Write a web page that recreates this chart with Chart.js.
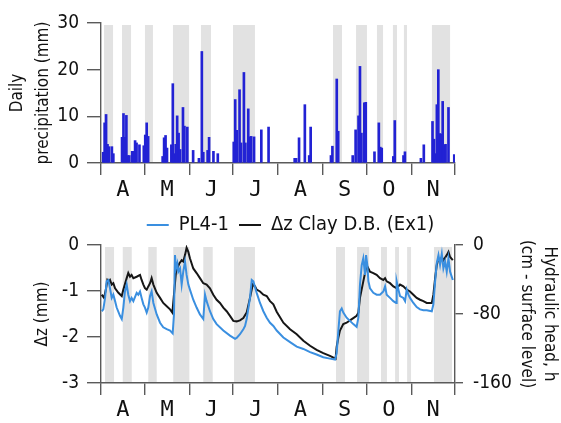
<!DOCTYPE html>
<html>
<head>
<meta charset="utf-8">
<script src="https://cdn.jsdelivr.net/npm/chart.js@4.4.1/dist/chart.umd.min.js"></script>
<style>
  body { margin: 0; background: #fff; }
  #wrap { position: relative; width: 561px; height: 423px; }
  canvas { position: absolute; left: 0; }
</style>
</head>
<body>
<div id="wrap">
  <canvas id="chartLluvia" width="561" height="205" style="top:0"></canvas>
  <canvas id="chartDz" width="561" height="218" style="top:205px"></canvas>
</div>
<script>
// eje x: dias desde el 1 de abril
const monthEdges = [0, 30, 61, 91, 122, 153, 183, 214, 244];
const monthNames = ['A', 'M', 'J', 'J', 'A', 'S', 'O', 'N'];

// precipitacion diaria (mm)
const rainDays = [1, 2, 3, 4, 5, 7, 8,
    14, 15, 16, 17, 18, 19, 21, 22, 23, 24, 26,
    29, 30, 31, 32,
    42, 43, 44, 45, 48, 49, 50, 51, 52, 53, 54, 56, 57, 59,
    63, 67, 69, 70, 73, 74, 77, 80,
    91, 92, 93, 95, 96, 98, 99, 101, 102, 103, 105, 110, 115,
    133, 134, 136, 140, 143, 144,
    158, 159, 162, 163,
    173, 175, 177, 178, 179, 181, 182,
    188, 191, 192, 193,
    201, 202, 208, 209,
    220, 222,
    228, 229, 230, 231, 232, 233, 234, 235, 236, 237, 239, 243];
const rainMm = [2.3, 8.6, 10.4, 4, 3.5, 3.5, 2,
    5.5, 10.6, 5.5, 10.2, 1.6, 1.6, 2.5, 2.5, 4.8, 4.3, 3.9,
    3.7, 6, 8.6, 5.7,
    1.4, 5.4, 5.9, 3.2, 3.9, 17, 2, 4, 10.1, 6.4, 2.9, 11.9, 7.9, 7.7,
    2.7, 1, 23.9, 2.3, 2.7, 5.5, 2.5, 2,
    4.5, 13.6, 7, 15.7, 4.3, 19.4, 4.3, 11.6, 5.6, 5.7, 5.6, 7.1, 7.7,
    1, 1, 5.4, 12.5, 1.6, 7.7,
    1.6, 3.6, 18, 6.8,
    1.6, 7.1, 10.1, 20.7, 6.4, 12.9, 13,
    2.4, 8.6, 3.4, 3.2,
    1.4, 9.1, 1.6, 2.4,
    1, 3.9,
    8.9, 5.1, 2, 12.5, 20, 6.3, 6.2, 13.2, 3.9, 4, 11.9, 1.8];

// periodos de lluvia (sombreado gris)
const bandStartTop = [2.1, 14.5, 30.3, 49.6, 68.9, 91, 159.9, 175.8, 190.2, 201.2, 208.8, 228.1];
const bandEndTop = [8.3, 20.7, 35.8, 60.7, 75.8, 106.1, 166.1, 183.3, 194.4, 204, 210.9, 240.6];
const bandStartBot = [2.8, 15, 32.6, 49.8, 70.5, 91.7, 162, 176.5, 193, 202.7, 211, 229.5];
const bandEndBot = [9, 21.2, 38.4, 60.9, 77, 106.1, 168.2, 184.8, 197.1, 205.4, 213.7, 241.9];

// PL4-1 (mm)
const blueDays = [0.5, 1.6, 2.8, 3.9, 5.1, 6.2, 7.4, 8.5, 9.7, 10.8, 13.1, 14.3, 15.4, 16.5, 17.7, 18.8,
    20, 21.1, 22.3, 24.6, 25.7, 26.9, 28, 29.2, 30.3, 31.5, 32.6, 33.8, 34.9, 36.1, 38.4, 40.7,
    42.9, 45.3, 47.6, 49.4, 50.3, 51, 51.7, 52.6, 53.3, 54.5, 55.6, 56.7, 57.9, 59, 60.2, 61.3,
    63.6, 65.9, 68.2, 70.5, 71.7, 72.8, 75.1, 77.4, 79.7, 84.3, 88.9, 92.4, 93.5, 95.8, 98.1, 99.3,
    100.4, 102.7, 103.9, 105, 107.3, 109.6, 111.9, 114.2, 116.5, 118.8, 121.1, 125.7, 130.3, 134.9,
    139.5, 144.1, 148.6, 153.2, 157.8, 161.3, 162.4, 163.6, 164.7, 165.9, 167, 169.3, 171.6, 173.9,
    176.2, 177.4, 178.5, 179.7, 180.8, 182, 182.7, 183.6, 184.3, 185.4, 187.7, 190, 192.3, 194.6,
    195.8, 196.9, 199.2, 201.5, 203.4, 203.8, 205, 206.1, 208.4, 209.6, 210.7, 211.9, 213, 215.3,
    217.6, 219.9, 222.2, 224.5, 228, 229.1, 230.3, 231.4, 232.6, 233.7, 234.9, 236, 237.2, 238.3,
    239.5, 240.6, 242.5];
const blueDz = [-1.44, -1.40, -1.15, -0.79, -0.76, -0.94, -1.15, -1.08, -1.22, -1.36, -1.54, -1.61, -1.36, -1.01, -0.86, -1.08,
    -1.22, -1.15, -1.22, -1.04, -1.08, -1.01, -1.15, -1.29, -1.36, -1.47, -1.36, -1.11, -1.01, -1.26, -1.51, -1.69,
    -1.79, -1.83, -1.86, -1.92, -1.51, -0.22, -0.51, -0.40, -0.58, -0.51, -0.86, -0.58, -0.36, -0.65, -0.86, -0.97,
    -1.19, -1.36, -1.51, -1.61, -1.08, -1.22, -1.44, -1.61, -1.72, -1.86, -1.97, -2.04, -2.02, -1.94, -1.83, -1.76,
    -1.61, -1.15, -0.76, -0.79, -1.04, -1.26, -1.44, -1.58, -1.69, -1.76, -1.86, -2.01, -2.11, -2.21,
    -2.26, -2.33, -2.38, -2.44, -2.47, -2.49, -2.36, -1.86, -1.44, -1.38, -1.47, -1.58, -1.65, -1.72,
    -1.78, -1.58, -0.86, -0.44, -0.29, -0.65, -0.22, -0.44, -0.79, -0.94, -1.04, -1.08, -1.08, -1.01,
    -0.90, -1.08, -1.15, -1.22, -1.26, -0.79, -0.97, -1.11, -1.15, -1.22, -0.97, -1.08, -1.15, -1.26,
    -1.35, -1.40, -1.42, -1.42, -1.44, -1.29, -0.79, -0.40, -0.22, -0.43, -0.19, -0.51, -0.36, -0.58,
    -0.29, -0.58, -0.76];

// Δz Clay D.B. (Ex1) (mm)
const blackDays = [0.5, 2.1, 3.5, 4.4, 5.3, 6.2, 7.4, 8.5, 9.7, 12, 14.3, 15.4, 17.7, 18.8, 20, 21.1,
    22.3, 24.6, 26.9, 28, 29.2, 30.3, 31.5, 32.6, 33.8, 34.9, 36.1, 38.4, 40.7, 42.9, 45.3, 47.6,
    49.2, 50.1, 51.7, 52.6, 54, 55.6, 56.7, 57.9, 59, 60.2, 61.3, 63.6, 65.9, 68.2, 70.5, 72.8,
    75.1, 77.4, 79.7, 82, 84.3, 86.6, 88.9, 91.2, 93.5, 95.8, 98.1, 100.4, 102.7, 104.6, 106.2, 107.3,
    109.6, 111.9, 114.2, 116.5, 118.8, 121.1, 125.7, 130.3, 134.9, 139.5, 144.1, 148.6, 153.2, 157.8,
    161.7, 162.4, 163.6, 164.7, 167, 169.3, 171.6, 173.9, 176.2, 177.4, 178.5, 180.8, 183.1, 184.3,
    185.4, 187.7, 190, 192.3, 194.6, 195.8, 196.9, 199.2, 201.5, 203.8, 206.1, 208.4, 210.7, 213,
    215.3, 217.6, 219.9, 222.2, 224.5, 228, 229.1, 230.3, 231.4, 232.6, 233.7, 234.9, 236, 238.3,
    239.5, 240.6, 242.5];
const blackDz = [-1.08, -1.15, -0.94, -0.76, -0.79, -0.76, -0.86, -0.83, -0.94, -1.04, -1.11, -0.97, -0.72, -0.61, -0.69, -0.65,
    -0.72, -0.69, -0.65, -0.76, -0.86, -0.94, -0.97, -0.90, -0.83, -0.72, -0.86, -1.04, -1.15, -1.26, -1.33, -1.40,
    -1.47, -1.15, -0.58, -0.51, -0.40, -0.33, -0.36, -0.22, -0.06, -0.15, -0.29, -0.51, -0.61, -0.72, -0.83, -0.86,
    -0.94, -1.08, -1.19, -1.26, -1.36, -1.44, -1.54, -1.65, -1.66, -1.64, -1.59, -1.47, -1.15, -0.86, -0.90, -0.97,
    -1.01, -1.08, -1.11, -1.22, -1.29, -1.45, -1.69, -1.83, -1.94, -2.08, -2.19, -2.28, -2.35, -2.41,
    -2.47, -2.22, -2.01, -1.86, -1.72, -1.69, -1.64, -1.59, -1.54, -1.47, -1.15, -0.79, -0.44, -0.51,
    -0.58, -0.61, -0.65, -0.72, -0.76, -0.72, -0.79, -0.83, -0.90, -0.94, -0.86, -0.90, -0.97, -1.01,
    -1.08, -1.15, -1.19, -1.22, -1.26, -1.26, -1.08, -0.72, -0.44, -0.29, -0.36, -0.26, -0.33, -0.22,
    -0.15, -0.26, -0.33];

const gris = '#5a5a5a';
const fuente = "'DejaVu Sans Condensed', 'DejaVu Sans', sans-serif";
const fuenteMes = "'DejaVu Sans Mono', monospace";

// marcas en los limites de mes, etiquetas a mitad de mes
const xTicks = [];
for (let i = 0; i < monthNames.length; i++) {
    xTicks.push(monthEdges[i]);
    xTicks.push((monthEdges[i] + monthEdges[i + 1]) / 2);
}
xTicks.push(monthEdges[monthEdges.length - 1]);

function ejeMeses(alto) {
    return {
        type: 'linear',
        min: 0,
        max: 244,
        offset: false,
        afterBuildTicks: function (s) { s.ticks = xTicks.map(v => ({ value: v })); },
        afterFit: function (s) { s.height = alto; },
        grid: {
            offset: false,
            drawOnChartArea: false,
            tickLength: 12,
            lineWidth: 1.4,
            color: c => (c.index % 2 ? 'rgba(0,0,0,0)' : gris)
        },
        border: { color: gris, width: 1.4 },
        ticks: {
            autoSkip: false,
            maxRotation: 0,
            padding: 2,
            color: '#111',
            font: { family: fuenteMes, size: 22 },
            callback: (v, i) => (i % 2 ? monthNames[(i - 1) / 2] : '')
        }
    };
}

function pluginBandas(inicio, fin) {
    return {
        id: 'bandas',
        beforeDraw: function (chart) {
            const ctx = chart.ctx;
            const xs = chart.scales.x;
            const area = chart.chartArea;
            ctx.save();
            ctx.fillStyle = '#e2e2e2';
            for (let i = 0; i < inicio.length; i++) {
                const a = xs.getPixelForValue(inicio[i]);
                const b = xs.getPixelForValue(fin[i]);
                ctx.fillRect(a, area.top + 2, b - a, area.bottom - area.top - 2);
            }
            ctx.restore();
        }
    };
}

// precipitacion
new Chart(document.getElementById('chartLluvia'), {
    type: 'bar',
    data: {
        datasets: [{
            data: rainDays.map((d, i) => ({ x: d + 0.5, y: rainMm[i] })),
            backgroundColor: '#2222d4',
            borderWidth: 0,
            barThickness: 2
        }]
    },
    options: {
        responsive: false,
        animation: false,
        layout: { padding: { left: 0, right: 106, top: 23, bottom: 0 } },
        plugins: { legend: { display: false }, tooltip: { enabled: false } },
        scales: {
            x: ejeMeses(42),
            y: {
                min: 0,
                max: 30,
                afterFit: function (s) { s.width = 101; },
                grid: { drawOnChartArea: false, tickLength: 14, lineWidth: 1.4, color: gris },
                border: { color: gris, width: 1.4 },
                ticks: { stepSize: 10, padding: 8, color: '#111', font: { family: fuente, size: 19 } },
                title: {
                    display: true,
                    text: ['Daily', 'precipitation (mm)'],
                    color: '#111',
                    padding: { top: 5, bottom: 0 },
                    font: { family: fuente, size: 17, lineHeight: 1.5 }
                }
            }
        }
    },
    plugins: [pluginBandas(bandStartTop, bandEndTop)]
});

// asentamiento
new Chart(document.getElementById('chartDz'), {
    type: 'line',
    data: {
        datasets: [
            {
                label: 'PL4-1',
                data: blueDays.map((d, i) => ({ x: d, y: blueDz[i] })),
                borderColor: '#3a8fe0',
                backgroundColor: '#3a8fe0',
                borderWidth: 2,
                pointRadius: 0,
                tension: 0
            },
            {
                label: 'Δz Clay D.B. (Ex1)',
                data: blackDays.map((d, i) => ({ x: d, y: blackDz[i] })),
                borderColor: '#161616',
                backgroundColor: '#161616',
                borderWidth: 2,
                pointRadius: 0,
                tension: 0
            }
        ]
    },
    options: {
        responsive: false,
        animation: false,
        layout: { padding: { left: 20, right: 0, top: 0, bottom: 0 } },
        plugins: {
            tooltip: { enabled: false },
            legend: {
                position: 'top',
                labels: {
                    usePointStyle: true,
                    pointStyle: 'line',
                    pointStyleWidth: 22,
                    padding: 10,
                    color: '#111',
                    font: { family: fuente, size: 20 }
                }
            }
        },
        scales: {
            x: ejeMeses(40),
            y: {
                min: -3,
                max: 0,
                afterFit: function (s) { s.width = 81; },
                grid: { drawOnChartArea: false, tickLength: 14, lineWidth: 1.4, color: gris },
                border: { color: gris, width: 1.4 },
                ticks: { stepSize: 1, padding: 8, color: '#111', font: { family: fuente, size: 19 } },
                title: {
                    display: true,
                    text: 'Δz (mm)',
                    color: '#111',
                    padding: { top: 12, bottom: 0 },
                    font: { family: fuente, size: 17 }
                }
            },
            y2: {
                position: 'right',
                min: -160,
                max: 0,
                afterFit: function (s) { s.width = 106; },
                grid: { drawOnChartArea: false, tickLength: 8, lineWidth: 1.4, color: gris },
                border: { color: gris, width: 1.4 },
                ticks: { stepSize: 80, padding: 10, color: '#111', font: { family: fuente, size: 19 } },
                title: {
                    display: true,
                    text: ['Hydraulic head, h', '(cm - surface level)'],
                    color: '#111',
                    padding: { top: 1, bottom: 0 },
                    font: { family: fuente, size: 17, lineHeight: 1.3 }
                }
            }
        }
    },
    plugins: [pluginBandas(bandStartBot, bandEndBot)]
});
</script>
</body>
</html>
